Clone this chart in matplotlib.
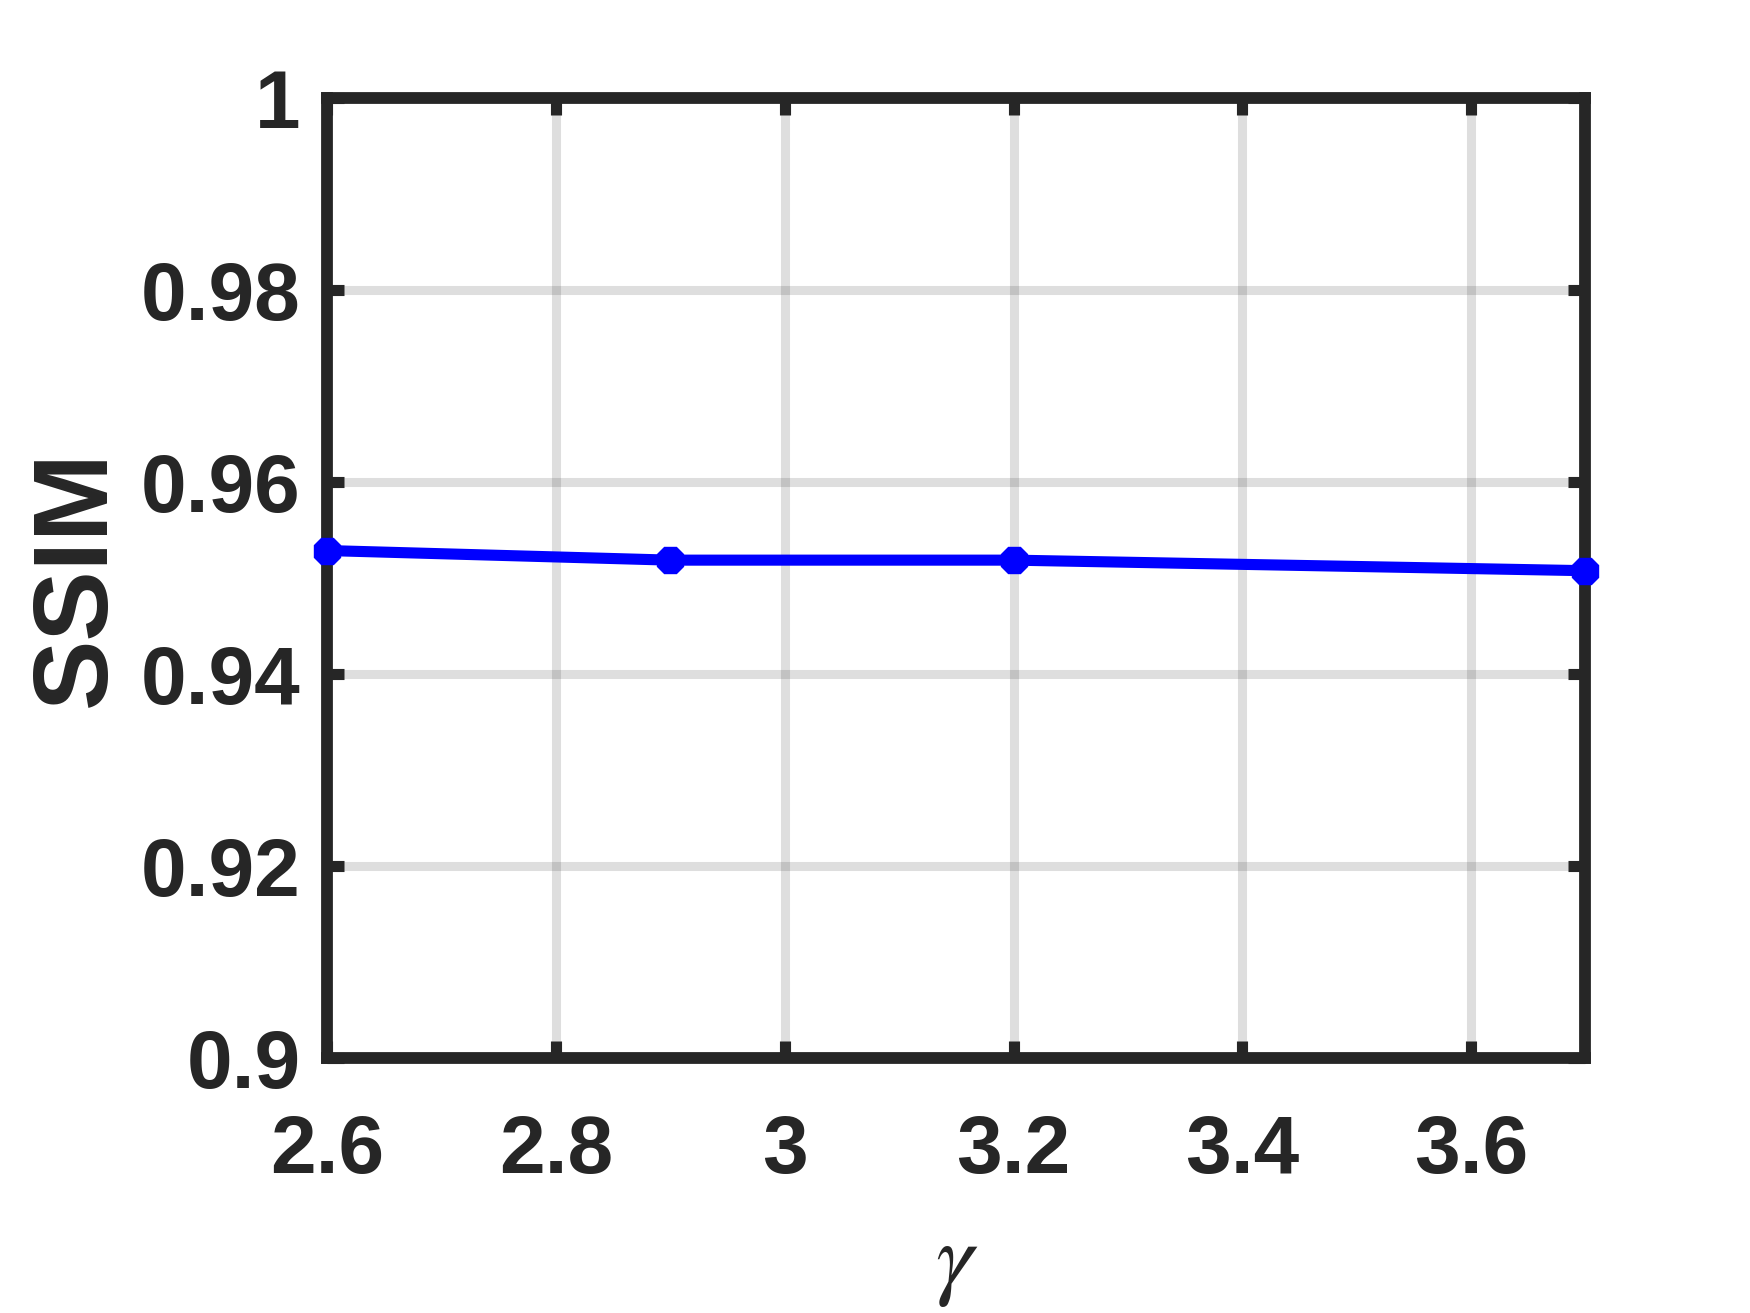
import numpy as np
import matplotlib.pyplot as plt

plt.rcParams['font.family'] = ['Liberation Sans', 'DejaVu Sans']
plt.rcParams['mathtext.fontset'] = 'stix'

gamma = [2.6, 2.9, 3.2, 3.7]
ssim = [0.9529, 0.9519, 0.9519, 0.9508]

xticks = [2.6, 2.8, 3.0, 3.2, 3.4, 3.6]
xticklabels = ['2.6', '2.8', '3', '3.2', '3.4', '3.6']
yticks = [0.90, 0.92, 0.94, 0.96, 0.98, 1.00]
yticklabels = ['0.9', '0.92', '0.94', '0.96', '0.98', '1']

dark = '#262626'

fig = plt.figure(figsize=(17.5, 13.13), dpi=100)
ax = fig.add_axes([0.187, 0.194, 0.719, 0.731])

# curva SSIM x gamma
ax.plot(gamma, ssim, color='#0000ff', lw=8, marker='8', ms=21,
        mec='#0000ff', mfc='#0000ff', zorder=3, clip_on=False)

ax.set_xlim(2.6, 3.7)
ax.set_ylim(0.9, 1.0)
ax.set_xticks(xticks)
ax.set_xticklabels(xticklabels)
ax.set_yticks(yticks)
ax.set_yticklabels(yticklabels)

ax.grid(True, color=dark, alpha=0.15, lw=6.5, zorder=0)
ax.set_axisbelow(True)

for s in ax.spines.values():
    s.set_linewidth(8.5)
    s.set_color(dark)

ax.tick_params(direction='in', length=12, width=8, color=dark,
               top=True, right=True, labelsize=59, labelcolor=dark)
ax.tick_params(axis='x', pad=40)
ax.tick_params(axis='y', pad=19)
for lab in ax.get_xticklabels() + ax.get_yticklabels():
    lab.set_fontweight('bold')

ax.set_ylabel('SSIM', fontsize=76, fontweight='bold', color=dark, labelpad=10)
ax.set_xlabel(r'$\gamma$', fontsize=68, color=dark, labelpad=22)

fig.savefig('out.png', dpi=100, facecolor='white')
